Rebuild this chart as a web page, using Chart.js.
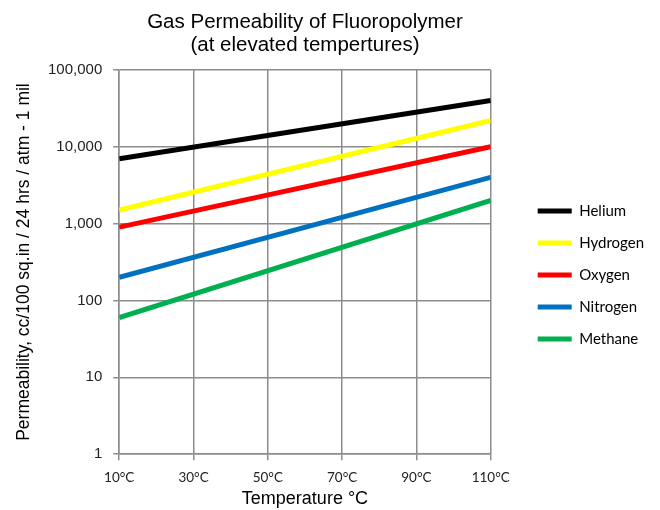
<!DOCTYPE html>
<html>
<head>
<meta charset="utf-8">
<script src="https://cdn.jsdelivr.net/npm/chart.js@4/dist/chart.umd.min.js"></script>
<style>
  html, body { margin: 0; padding: 0; background: #fff; }
  #wrap { width: 660px; height: 510px; position: relative; }
</style>
</head>
<body>
<div id="wrap"><canvas id="gasChart"></canvas></div>
<script>
// temperatures (°C) at the two ends of each line
const temps = [10, 110];
const xTicks = [10, 30, 50, 70, 90, 110];
const yTicks = [1, 10, 100, 1000, 10000, 100000];

const gases = ['Helium', 'Hydrogen', 'Oxygen', 'Nitrogen', 'Methane'];
const helium = [7000, 40000];
const hydrogen = [1500, 22000];
const oxygen = [900, 10000];
const nitrogen = [200, 4000];
const methane = [60, 2000];
const colors = ['#000000', '#FFFF00', '#FF0000', '#0070C0', '#00B050'];

const seriesValues = [helium, hydrogen, oxygen, nitrogen, methane];
const gridColor = '#8c8c8c';
const bodyFont = 'Lato, "Open Sans", sans-serif';
const arialFont = '"Liberation Sans", Arial, sans-serif';

const datasets = gases.map((name, i) => ({
    label: name,
    data: temps.map((t, j) => ({ x: t, y: seriesValues[i][j] })),
    borderColor: colors[i],
    backgroundColor: colors[i],
    borderWidth: 5,
    pointRadius: 0,
    tension: 0
}));

// move the legend a bit away from the plot, like the Excel original
const legendNudge = {
    id: 'legendNudge',
    afterLayout(chart) {
        const lg = chart.legend;
        if (!lg) return;
        lg.left += 30; lg.right += 30;
        lg.top += 20; lg.bottom += 20;
    }
};

const ctx = document.getElementById('gasChart').getContext('2d');
new Chart(ctx, {
    type: 'line',
    data: { datasets: datasets },
    plugins: [legendNudge],
    options: {
        responsive: true,
        maintainAspectRatio: false,
        animation: false,
        layout: { padding: { left: 10, right: 36, top: 0, bottom: 0 } },
        scales: {
            x: {
                type: 'linear',
                min: 10,
                max: 110,
                afterBuildTicks: (axis) => { axis.ticks = xTicks.map(v => ({ value: v })); },
                ticks: {
                    callback: (v) => v + '°C',
                    color: '#222',
                    font: { family: bodyFont, size: 13.5 },
                    padding: 9,
                    maxRotation: 0
                },
                grid: { color: gridColor, lineWidth: 1.5, tickLength: 6 },
                border: { color: gridColor, width: 1.5 },
                title: {
                    display: true,
                    text: 'Temperature °C',
                    color: '#000',
                    font: { family: arialFont, size: 18 },
                    padding: { top: -6, bottom: 0 }
                }
            },
            y: {
                type: 'logarithmic',
                min: 1,
                max: 100000,
                afterBuildTicks: (axis) => { axis.ticks = yTicks.map(v => ({ value: v })); },
                ticks: {
                    callback: (v) => v.toLocaleString('en-US'),
                    color: '#222',
                    font: { family: arialFont, size: 15 },
                    padding: 11
                },
                grid: { color: gridColor, lineWidth: 1.5, tickLength: 6 },
                border: { color: gridColor, width: 1.5 },
                title: {
                    display: true,
                    text: 'Permeability, cc/100 sq.in / 24 hrs / atm - 1 mil',
                    color: '#000',
                    font: { family: arialFont, size: 17.5 },
                    padding: { top: 4, bottom: 2 }
                }
            }
        },
        plugins: {
            title: {
                display: true,
                fullSize: false,
                text: ['Gas Permeability of Fluoropolymer', '(at elevated tempertures)'],
                color: '#000',
                font: { family: arialFont, size: 20.5, weight: 'normal', lineHeight: 1.12 },
                padding: { top: 11, bottom: 13 }
            },
            legend: {
                position: 'right',
                labels: {
                    boxWidth: 34,
                    boxHeight: 5,
                    color: '#000',
                    font: { family: bodyFont, size: 15 },
                    padding: 17,
                    generateLabels: (chart) => Chart.defaults.plugins.legend.labels
                        .generateLabels(chart).map(l => ({ ...l, lineWidth: 0 }))
                }
            },
            tooltip: { enabled: false }
        }
    }
});
</script>
</body>
</html>
